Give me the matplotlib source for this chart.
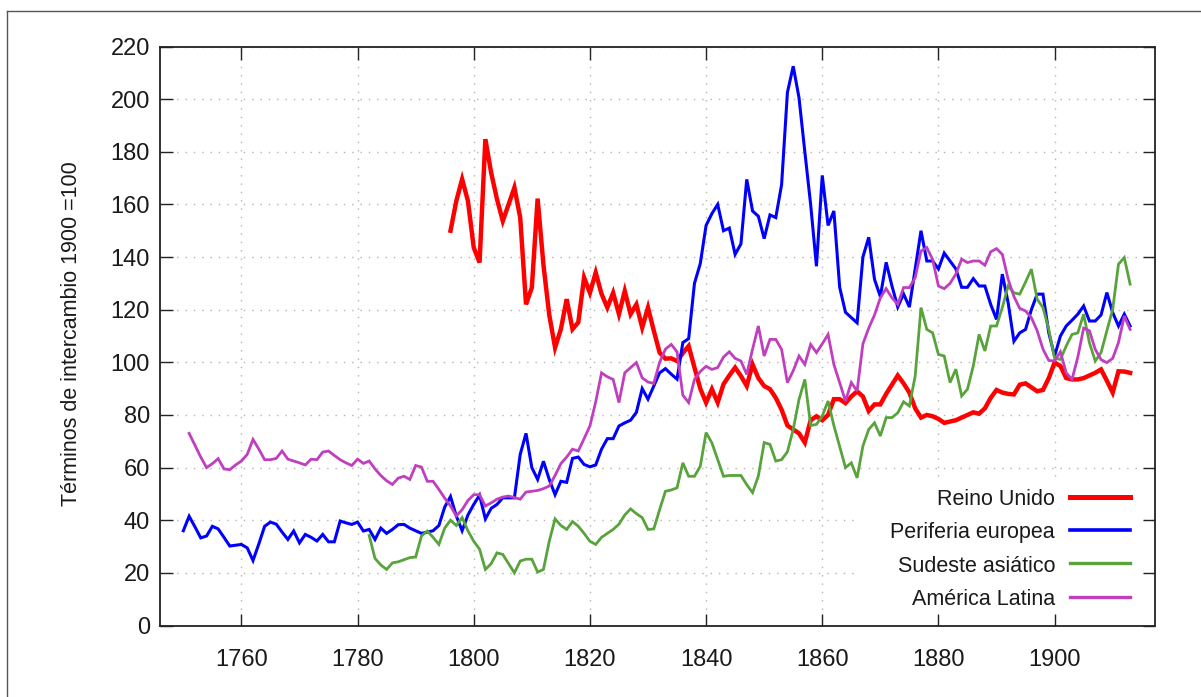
import numpy as np
import matplotlib
matplotlib.use("Agg")
import matplotlib.pyplot as plt
from matplotlib.lines import Line2D
from matplotlib.patches import Rectangle

# ==============================================
# Términos de intercambio (1900 = 100), series anuales
# ==============================================
blue_start = 1750   # Periferia europea
blue = [36, 41.5, 37.5, 33.3, 34, 37.7, 36.7, 33.5, 30.2, 30.5,
        30.8, 29.5, 24.7, 31, 37.7, 39.3, 38.5, 35.5, 32.7, 35.9,
        31.4, 34.6, 33.5, 32.1, 34.6, 31.8, 31.8, 39.7, 39, 38.4,
        39.3, 35.9, 36.5, 32.7, 37, 35, 36.5, 38.3, 38.4, 37,
        36, 35, 35.5, 36, 38, 45, 49, 41.6, 36, 42,
        46, 49.5, 40.5, 44.5, 46, 48.5, 48.5, 48.5, 65, 73,
        60, 55.5, 62.4, 55.5, 49.7, 54.8, 54.4, 63.5, 64, 61.2,
        60.3, 61, 67, 71, 71, 75.8, 77, 78, 81, 90,
        86, 91, 96, 97.6, 95.5, 93.6, 107.5, 109, 130, 137.5,
        152, 156.5, 160, 150, 151, 141, 145, 169.5, 157.5, 155.5,
        147, 156, 155, 167.5, 202.5, 212.5, 200.5, 180, 160, 136.5,
        171, 152, 157.5, 128.5, 119, 117, 115, 140, 147.5, 131.5,
        125, 138, 129, 121, 126, 121, 135.5, 150, 138.5, 138.5,
        135.5, 141.5, 138.5, 135.5, 128.5, 128.5, 131.8, 129, 129, 122,
        116.3, 133.5, 122.7, 108, 111.2, 112.5, 120, 125.9, 125.9, 111.2,
        102.4, 110, 113.8, 116, 118.3, 121.4, 115.7, 115.7, 118, 126.5,
        118.9, 113.8, 118.3, 113.8]

purple_start = 1751   # América Latina
purple = [73, 68.5, 64, 60, 61.5, 63.4, 59.5, 59.2, 61,
          62.5, 65, 70.7, 67, 63, 63, 63.5, 66.3, 63.2, 62.5,
          61.8, 61, 63.2, 63, 65.9, 66.3, 64.6, 63, 61.8, 60.8,
          63.2, 61.6, 62.5, 59.5, 57, 55, 53.6, 56, 56.7, 55.5,
          60.8, 60.2, 54.8, 54.8, 51.7, 48.4, 45.4, 41.6, 44, 47.5,
          49.7, 49.7, 45.4, 46.6, 48, 48.8, 49.2, 48.6, 48, 50.7,
          51, 51.3, 52, 53, 57, 61.5, 64, 67, 66.3, 71,
          75.8, 85, 96, 94.5, 93.5, 84.7, 96, 98, 99.9, 94.1,
          92.5, 92, 100, 105, 106.8, 104, 87.5, 84.7, 93.5, 96.5,
          98.5, 97.3, 98, 102, 104, 101.5, 100.5, 95.4, 105, 113.8,
          102.4, 108.7, 108.7, 104.9, 92.3, 96.8, 102.4, 99.2, 106.8, 103.7,
          107, 110.6, 99.2, 92.3, 85.3, 92.3, 89.1, 107, 113, 118,
          124.5, 128, 124.5, 122, 128.4, 128.4, 132.2, 142.3, 143.6, 139.1,
          129, 128, 130, 133.5, 139.2, 137.9, 138.5, 138.5, 136.9, 142,
          143.2, 141, 131.6, 125, 120.5, 119.5, 117, 112, 105, 100.7,
          100.5, 104, 96, 93.5, 102, 113, 112, 104.9, 101, 99.9,
          101.5, 107.5, 117.6, 112.5]

red_start = 1796   # Reino Unido
red = [150, 161.3, 169.6, 161.3,
       143.6, 137.9, 184.8, 172, 162, 153.7, 160, 166.4, 155, 122,
       128.4, 162.2, 137, 118, 105.6, 112.6, 124, 112.6, 115.2, 132.2,
       126.4, 134.1, 126, 120.8, 126.4, 118.3, 127.1, 118.3, 122, 113.2,
       120.8, 112, 103.7, 101.4, 101.5, 100.5, 103.5, 106.2, 98, 90,
       84.7, 89.8, 84.7, 91.7, 95, 98, 94.8, 91, 99.2, 94,
       91, 89.8, 86.5, 82, 76, 74.5, 73, 69.5, 78, 79.5,
       78, 80, 86, 86, 84.5, 87, 89, 87, 81.5, 84,
       84, 88, 91.5, 95, 92, 88.5, 82.5, 79, 80, 79.5,
       78.5, 77, 77.5, 78, 79, 80, 81, 80.5, 82.5, 86.5,
       89.5, 88.5, 88, 87.8, 91.5, 92, 90.5, 89, 89.5, 94,
       99.9, 98.6, 94, 93.5, 93.5, 94, 95, 96, 97.3, 93,
       88.5, 96.6, 96.5, 96]

green_start = 1782   # Sudeste asiático
green = [34.2, 25.5, 23, 21.3, 23.8, 24.2, 25, 25.8,
         26, 34, 35.9, 33.5, 30.8, 37, 40, 38, 41, 36,
         32, 29, 21.3, 23.5, 27.6, 27, 23.5, 20, 24.5, 25.2,
         25.2, 20.3, 21.3, 32, 40.5, 38, 36.5, 39.5, 37.7, 35,
         32, 30.8, 33.5, 35, 36.5, 38.5, 42, 44.3, 42.5, 41,
         36.5, 36.7, 44, 51, 51.5, 52.3, 61.8, 56.7, 56.7, 60.5,
         73.3, 69.4, 63, 56.7, 57, 57, 57, 53.5, 50.5, 56.8,
         69.5, 68.8, 62.5, 63, 66, 74.5, 85.9, 93.5, 76, 76.4,
         79.6, 85.3, 76, 68, 60, 61.8, 56.1, 68.2, 74.5, 77,
         72, 79, 79, 80.8, 85, 83.4, 94.8, 120.8, 112.5, 111.2,
         103, 102.4, 92.3, 97.4, 87.2, 89.8, 98.6, 110.6, 104.3, 113.8,
         113.8, 120.8, 129, 126.4, 125.9, 130.5, 135.4, 124, 120.8, 112.5,
         101.5, 101.1, 106.2, 110.6, 111.2, 118.3, 107.4, 100.5, 103.7, 112,
         120.1, 137.3, 139.8, 129.7]

labels = ["Reino Unido", "Periferia europea", "Sudeste asiático", "América Latina"]
x_ticks = [1760, 1780, 1800, 1820, 1840, 1860, 1880, 1900]
y_ticks = list(range(0, 221, 20))

# ==============================================
TICK_FONT = ["Liberation Sans Narrow", "Liberation Sans", "DejaVu Sans"]
TEXT_FONT = ["Liberation Sans", "DejaVu Sans"]

fig = plt.figure(figsize=(12.01, 6.97), dpi=100)
ax = fig.add_axes([159.5 / 1201, 71.5 / 697, 995 / 1201, 579 / 697])

series = [(red_start, red, "#ff0000", 3.2),
          (blue_start, blue, "#0000ff", 2.2),
          (green_start, green, "#58a33c", 2.0),
          (purple_start, purple, "#bf3fbf", 2.0)]

for start, vals, col, lw in series:
    yrs = np.arange(start, start + len(vals))
    ax.plot(yrs, vals, color=col, lw=lw, zorder=2, solid_joinstyle="miter")

ax.set_xlim(1745.9, 1917.2)
ax.set_ylim(0, 220)
ax.set_xticks(x_ticks)
ax.set_yticks(y_ticks)
ax.set_axisbelow(True)
ax.grid(True, color="#b4b4b4", lw=1.0, linestyle=(0, (1, 5)))

for sp in ax.spines.values():
    sp.set_linewidth(1.3)
    sp.set_color("#222222")

ax.tick_params(axis="both", direction="in", length=9, width=1.0, color="#222222",
               top=True, right=True)
ax.tick_params(axis="x", pad=17)
ax.tick_params(axis="y", pad=7)
for lab in ax.get_xticklabels() + ax.get_yticklabels():
    lab.set_fontfamily(TICK_FONT)
    lab.set_fontsize(17)
    lab.set_color("#1a1a1a")

fig.text(72 / 1201, 1 - 334 / 697, "Términos de intercambio 1900 =100",
         rotation=90, ha="center", va="center", fontsize=15.5,
         family=TEXT_FONT, color="#1a1a1a")

# opaque key, gnuplot style: text right aligned, sample on the right
ax.add_patch(Rectangle((0.70, 0.024), 0.285, 0.228, transform=ax.transAxes,
                       facecolor="white", edgecolor="none", zorder=3))
text_base = [0.2081, 0.1507, 0.0931, 0.0354]
line_mid = [0.2225, 0.1649, 0.1074, 0.0498]
for i, (start, vals, col, lw) in enumerate(series):
    ax.text(0.900, text_base[i], labels[i], transform=ax.transAxes, ha="right",
            va="baseline", fontsize=15.5, family=TEXT_FONT, color="#1a1a1a", zorder=4)
    ax.add_line(Line2D([0.9151, 0.9754], [line_mid[i], line_mid[i]], transform=ax.transAxes,
                       color=col, lw=lw + 0.4, zorder=4, clip_on=False))

# outer frame (left and top edges only are visible)
fig.add_artist(Line2D([6.5 / 1201, 6.5 / 1201], [0, 1 - 10.7 / 697], color="#555555", lw=1.0))
fig.add_artist(Line2D([6.5 / 1201, 1], [1 - 10.7 / 697, 1 - 10.7 / 697], color="#555555", lw=1.0))

fig.savefig("out.png", dpi=100)
